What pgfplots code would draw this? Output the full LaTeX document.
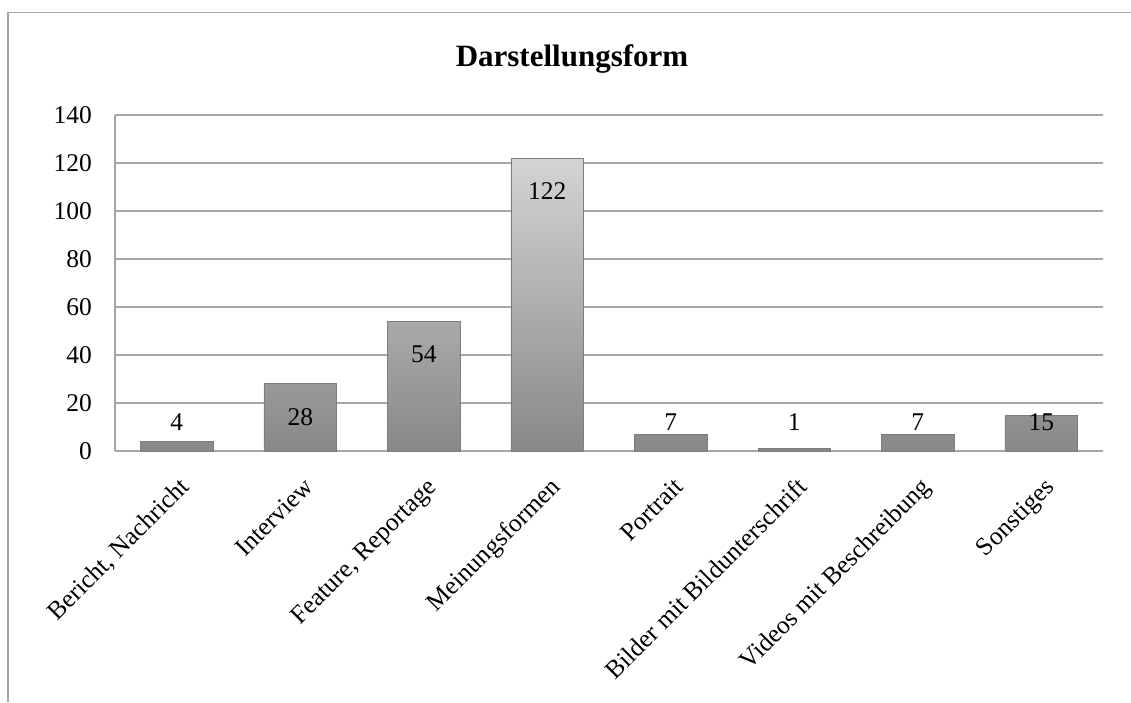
\documentclass[border=0pt]{standalone}
\usepackage{pgfplots}
\pgfplotsset{compat=1.18}
\usepackage{pgfplotstable}
\usepackage{fontspec}
\setmainfont{Liberation Serif}
\definecolor{gridc}{RGB}{166,166,166}
\definecolor{bartop}{RGB}{212,212,212}
\definecolor{barbot}{RGB}{136,136,136}
\definecolor{baredge}{RGB}{125,125,125}
\pgfplotstableread{
x y ly
0 4 12
1 28 14.3
2 54 40.3
3 122 108.3
4 7 12
5 1 12
6 7 12
7 15 12
}\datatable
\begin{document}
\begin{tikzpicture}[x=1pt,y=1pt]
\useasboundingbox (0,0) rectangle (1131,702);
\draw[gridc, line width=1.5pt] (8,0) -- (8,689.5) -- (1131,689.5);
\node[anchor=base, font=\fontsize{31}{36}\selectfont\bfseries] at (572,635) {Darstellungsform};
\begin{axis}[
  at={(115pt,251pt)}, anchor=south west,
  width=988pt, height=336pt, scale only axis,
  xmin=-0.5, xmax=7.5, ymin=0, ymax=140,
  ytick={0,20,...,140},
  xtick={0,...,7},
  xticklabels={{Bericht, Nachricht},Interview,{Feature, Reportage},Meinungsformen,Portrait,{Bilder mit Bildunterschrift},{Videos mit Beschreibung},Sonstiges},
  axis x line*=bottom, axis y line*=left,
  axis line style={gridc, line width=1.5pt},
  ymajorgrids, grid style={gridc, line width=1.5pt},
  major tick length=0pt,
  tick label style={font=\fontsize{25.5}{30}\selectfont},
  /pgf/number format/assume math mode=true,
  yticklabel style={anchor=east, inner sep=0pt, xshift=-23pt},
  xticklabel style={inner sep=0pt, xshift=14pt, yshift=-37pt, rotate=45, anchor=base east},
  clip=false,
]
\addplot[ybar, bar width=72.7pt, draw=baredge, line width=0.8pt, top color=bartop, bottom color=barbot] table[x=x,y=y] {\datatable};
\addplot[draw=none, mark=none, forget plot, nodes near coords, point meta=explicit,
  every node near coord/.append style={anchor=center, font=\fontsize{25.5}{30}\selectfont, /pgf/number format/assume math mode=true}]
  table[x=x,y=ly,meta=y] {\datatable};
\end{axis}
\end{tikzpicture}
\end{document}
